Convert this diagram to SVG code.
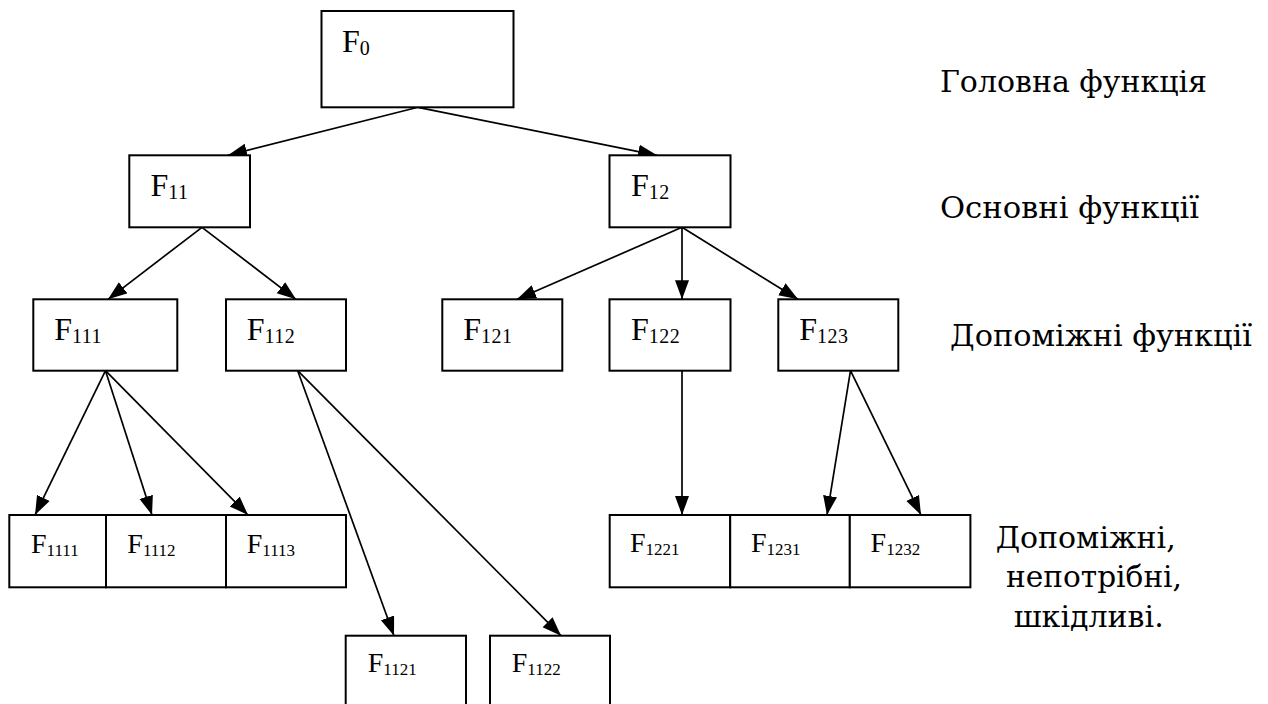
<svg xmlns="http://www.w3.org/2000/svg" width="1268" height="704" viewBox="0 0 1268 704">
<defs>
<marker id="arr" markerUnits="userSpaceOnUse" markerWidth="20" markerHeight="16" refX="19" refY="8" orient="auto">
<path d="M0,1 L19,8 L0,15 z" fill="#000"/>
</marker>
<style>
.box{fill:#fff;stroke:#000;stroke-width:2}
.t{font-family:"Liberation Serif","DejaVu Serif",serif;font-size:32px;fill:#000}
.s{font-size:20px;letter-spacing:0.5px}
.t2{font-family:"Liberation Serif","DejaVu Serif",serif;font-size:28px;fill:#000}
.s2{font-size:17px}
.lbl{font-family:"DejaVu Serif","Liberation Serif",serif;font-size:30px;fill:#000}
.c{fill:none;stroke:#000;stroke-width:1.7;marker-end:url(#arr)}
</style>
</defs>
<rect width="1268" height="704" fill="#fff"/>
<g id="connectors">
<line class="c" x1="418" y1="107.3" x2="228" y2="155.3"/>
<line class="c" x1="418" y1="107.3" x2="657" y2="155.3"/>
<line class="c" x1="202" y1="227.3" x2="108" y2="299.3"/>
<line class="c" x1="202" y1="227.3" x2="296" y2="299.3"/>
<line class="c" x1="682" y1="227.3" x2="517" y2="299.3"/>
<line class="c" x1="682" y1="227.3" x2="682" y2="299.3"/>
<line class="c" x1="682" y1="227.3" x2="798" y2="299.3"/>
<line class="c" x1="105.5" y1="370.7" x2="35" y2="515"/>
<line class="c" x1="105.5" y1="370.7" x2="152" y2="515"/>
<line class="c" x1="105.5" y1="370.7" x2="248" y2="515"/>
<line class="c" x1="297.7" y1="370.7" x2="394" y2="635.7"/>
<line class="c" x1="297.7" y1="370.7" x2="561" y2="635.7"/>
<line class="c" x1="682" y1="370.7" x2="682" y2="515"/>
<line class="c" x1="850.5" y1="370.7" x2="827" y2="515"/>
<line class="c" x1="850.5" y1="370.7" x2="921" y2="515"/>
</g>
<g id="F0"><rect class="box" x="321.5" y="11" width="192" height="96.3"/><text class="t" x="342" y="52">F<tspan class="s" dy="3">0</tspan></text></g>
<g id="F11"><rect class="box" x="129.3" y="155.3" width="120.7" height="72"/><text class="t" x="150.5" y="196">F<tspan class="s" dy="3">11</tspan></text></g>
<g id="F12"><rect class="box" x="609.5" y="155.3" width="121" height="72"/><text class="t" x="631" y="196">F<tspan class="s" dy="3">12</tspan></text></g>
<g id="F111"><rect class="box" x="33.3" y="299.3" width="144" height="71.4"/><text class="t" x="54.3" y="340">F<tspan class="s" dy="3">111</tspan></text></g>
<g id="F112"><rect class="box" x="226" y="299.3" width="120" height="71.4"/><text class="t" x="246.7" y="340">F<tspan class="s" dy="3">112</tspan></text></g>
<g id="F121"><rect class="box" x="442.3" y="299.3" width="120" height="71.4"/><text class="t" x="463.3" y="340">F<tspan class="s" dy="3">121</tspan></text></g>
<g id="F122"><rect class="box" x="609.5" y="299.3" width="121" height="71.4"/><text class="t" x="631" y="340">F<tspan class="s" dy="3">122</tspan></text></g>
<g id="F123"><rect class="box" x="778.3" y="299.3" width="120" height="71.4"/><text class="t" x="799.3" y="340">F<tspan class="s" dy="3">123</tspan></text></g>
<g id="F1111"><rect class="box" x="9.3" y="515" width="96.7" height="72.3"/><text class="t2" x="31" y="552.5">F<tspan class="s2" dy="3">1111</tspan></text></g>
<g id="F1112"><rect class="box" x="106" y="515" width="120" height="72.3"/><text class="t2" x="127.3" y="552.5">F<tspan class="s2" dy="3">1112</tspan></text></g>
<g id="F1113"><rect class="box" x="226" y="515" width="120" height="72.3"/><text class="t2" x="246.7" y="552.5">F<tspan class="s2" dy="3">1113</tspan></text></g>
<g id="F1121"><rect class="box" x="345.7" y="635.7" width="120.3" height="72"/><text class="t2" x="367.7" y="672.3">F<tspan class="s2" dy="3">1121</tspan></text></g>
<g id="F1122"><rect class="box" x="490" y="635.7" width="120" height="72"/><text class="t2" x="511.7" y="672.3">F<tspan class="s2" dy="3">1122</tspan></text></g>
<g id="F1221"><rect class="box" x="609.7" y="515" width="120.5" height="72.3"/><text class="t2" x="630" y="551.7">F<tspan class="s2" dy="3">1221</tspan></text></g>
<g id="F1231"><rect class="box" x="730.2" y="515" width="119.6" height="72.3"/><text class="t2" x="751" y="551.7">F<tspan class="s2" dy="3">1231</tspan></text></g>
<g id="F1232"><rect class="box" x="849.8" y="515" width="120.6" height="72.3"/><text class="t2" x="870.6" y="551.7">F<tspan class="s2" dy="3">1232</tspan></text></g>
<g id="labels">
<text class="lbl" x="940" y="91.7" textLength="267" lengthAdjust="spacingAndGlyphs">Головна функція</text>
<text class="lbl" x="940" y="218.3" textLength="259" lengthAdjust="spacingAndGlyphs">Основні функції</text>
<text class="lbl" x="950" y="346" textLength="302" lengthAdjust="spacingAndGlyphs">Допоміжні функції</text>
<text class="lbl" x="995.7" y="548.3" textLength="180" lengthAdjust="spacingAndGlyphs">Допоміжні,</text>
<text class="lbl" x="1006" y="586.7" textLength="176" lengthAdjust="spacingAndGlyphs">непотрібні,</text>
<text class="lbl" x="1013.7" y="626.7" textLength="150" lengthAdjust="spacingAndGlyphs">шкідливі.</text>
</g>
</svg>
